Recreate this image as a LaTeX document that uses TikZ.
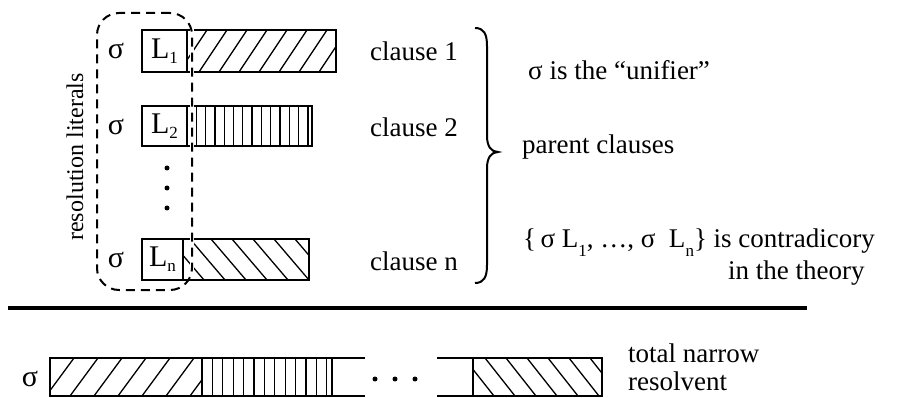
\documentclass[tikz,border=0pt]{standalone}
\usepackage{fontspec}
\setmainfont{Liberation Serif}
\newcommand{\lsub}[1]{\raisebox{-5pt}{\fontsize{17}{17}\selectfont #1}}
\newcommand{\tsub}[1]{\raisebox{-9pt}{\fontsize{17}{17}\selectfont #1}}
% "/" hatch: x1 y1 x2 y2 spacing dx
\newcommand{\hatchR}[6]{%
  \begin{scope}\clip (#1,#2) rectangle (#3,#4);
  \foreach \k in {0,...,40}{\pgfmathsetmacro{\xx}{#1-#6+\k*#5}
    \draw[hl] (\xx,#4) -- ({\xx+#6},#2);}
  \end{scope}}
% "\" hatch
\newcommand{\hatchL}[6]{%
  \begin{scope}\clip (#1,#2) rectangle (#3,#4);
  \foreach \k in {0,...,40}{\pgfmathsetmacro{\xx}{#1-#6+\k*#5}
    \draw[hl] (\xx,#2) -- ({\xx+#6},#4);}
  \end{scope}}
% vertical hatch
\newcommand{\hatchV}[5]{%
  \begin{scope}\clip (#1,#2) rectangle (#3,#4);
  \foreach \k in {1,...,40}{\pgfmathsetmacro{\xx}{#1+\k*#5}
    \draw[hl] (\xx,#2) -- (\xx,#4);}
  \end{scope}}
\begin{document}
\begin{tikzpicture}[x=1pt,y=-1pt,
  box/.style={draw, line width=1.6pt, inner sep=0pt, outer sep=0pt, anchor=center, font=\fontsize{30}{30}\selectfont},
  bar/.style={draw, line width=1.6pt, inner sep=0pt, outer sep=0pt, anchor=center},
  hl/.style={line width=1.3pt},
  lbl/.style={inner sep=0pt, anchor=west, font=\fontsize{27}{30}\selectfont},
  sig/.style={inner sep=0pt, font=\fontsize{30}{30}\selectfont},
  dotn/.style={circle, fill, inner sep=0pt, minimum size=5pt},
  dashbound/.style={line width=2pt, dash pattern=on 9pt off 6pt},
  brace/.style={line width=2pt}]
\useasboundingbox (0,0) rectangle (910,398);

% ---- parent clauses ----
\node[sig] (s1) at (116,51) {σ};
\node[sig] (s2) at (116,127) {σ};
\node[sig] (sn) at (116,260) {σ};

\node[box, minimum width=45pt, minimum height=42pt] (L1) at (164.5,51) {L\lsub{1}};
\node[bar, minimum width=149pt, minimum height=42pt] (H1) at (261.5,51) {};
\hatchR{187}{30}{336}{72}{20}{28}
\node[bar, minimum width=149pt, minimum height=42pt] at (H1) {};

\node[box, minimum width=45pt, minimum height=40pt] (L2) at (164.5,126) {L\lsub{2}};
\node[bar, minimum width=125pt, minimum height=40pt] (H2) at (249.5,126) {};
\hatchV{187}{106}{312}{146}{9.3}
\node[bar, minimum width=125pt, minimum height=40pt] at (H2) {};

\node[box, minimum width=41pt, minimum height=41pt] (Ln) at (162.5,259.5) {L\lsub{n}};
\node[bar, minimum width=126pt, minimum height=41pt] (Hn) at (246,259.5) {};
\hatchL{183}{239}{309}{280}{21}{35}
\node[bar, minimum width=126pt, minimum height=41pt] at (Hn) {};

\node[dotn] (d1) at (167,168) {};
\node[dotn] (d2) at (167,188) {};
\node[dotn] (d3) at (167,208) {};

% resolution literals boundary
\draw[white, line width=4pt] (192,24) -- (192,272);
\draw[dashbound, rounded corners=22pt] (192,13) -- (97,13) -- (97,290) -- (192,290) -- cycle;
\node[inner sep=0pt, rotate=90, font=\fontsize{24}{26}\selectfont] (rl) at (75,157) {resolution literals};

% clause labels
\node[lbl] (c1) at (370,51) {clause 1};
\node[lbl] (c2) at (370,127) {clause 2};
\node[lbl] (cn) at (370,261) {clause n};

% brace
\coordinate (bt) at (475,28);
\coordinate (bm) at (498,152);
\coordinate (bb) at (475,283);
\draw[brace] (bt) .. controls (484,28) and (487,34) .. (487,46) -- (487,136)
  .. controls (487,146) and (491,152) .. (bm)
  .. controls (491,152) and (487,158) .. (487,168) -- (487,265)
  .. controls (487,277) and (484,283) .. (bb);

% right texts
\node[lbl] (uni) at (528,70) {σ is the “unifier”};
\node[lbl] (par) at (522,147) {parent clauses};
\node[lbl] (con) at (523,243) {\{\,σ L\tsub{1}, …, σ~ L\tsub{n}\} is contradicory};
\node[lbl] (the) at (728,273) {in the theory};

% thick separator
\coordinate (sepL) at (8,308);
\coordinate (sepR) at (807,308);
\draw[line width=4pt] (sepL) -- (sepR);

% ---- resolvent ----
\node[sig] (sb) at (30,379) {σ};
\node[bar, minimum width=152pt, minimum height=38pt] (RA) at (126,377) {};
\hatchR{50}{358}{202}{396}{24}{28}
\node[bar, minimum width=152pt, minimum height=38pt] at (RA) {};
\node[bar, minimum width=130pt, minimum height=38pt] (RB) at (267,377) {};
\hatchV{202}{358}{332}{396}{10.4}
\node[bar, minimum width=130pt, minimum height=38pt] at (RB) {};
\coordinate (eA1) at (365,358);
\coordinate (eA2) at (365,396);
\draw[line width=1.6pt] (RB.north east) -- (eA1);
\draw[line width=1.6pt] (RB.south east) -- (eA2);
\node[dotn] (e1) at (375,379) {};
\node[dotn] (e2) at (395,379) {};
\node[dotn] (e3) at (415,379) {};
\node[bar, minimum width=129pt, minimum height=38pt] (RC) at (537.5,377) {};
\hatchL{473}{358}{602}{396}{21}{30}
\node[bar, minimum width=129pt, minimum height=38pt] at (RC) {};
\coordinate (eC1) at (437,358);
\coordinate (eC2) at (437,396);
\draw[line width=1.6pt] (eC1) -- (RC.north west);
\draw[line width=1.6pt] (eC2) -- (RC.south west);

\node[lbl] (tn) at (628,353) {total narrow};
\node[lbl] (rs) at (628,381) {resolvent};
\end{tikzpicture}
\end{document}
